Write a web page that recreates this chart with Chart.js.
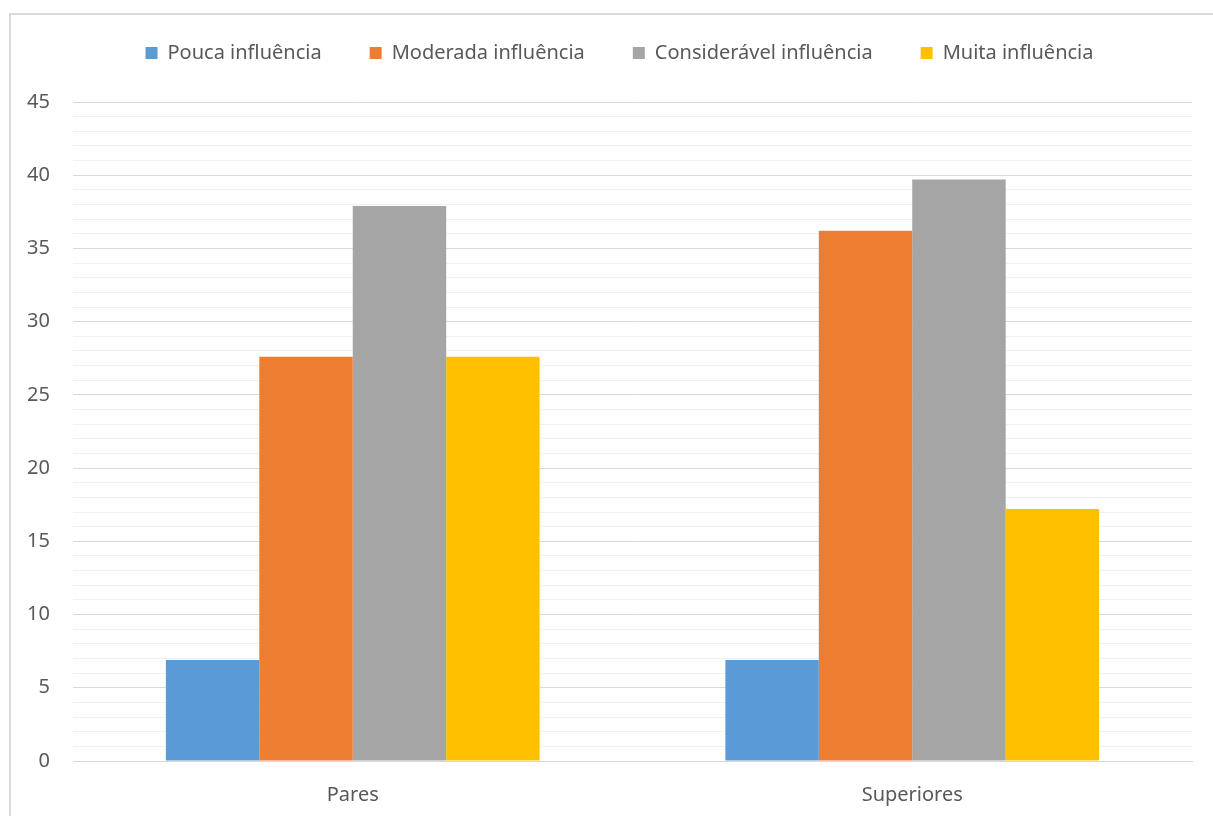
<!DOCTYPE html>
<html>
<head>
<meta charset="utf-8">
<script src="https://cdn.jsdelivr.net/npm/chart.js@4"></script>
<style>
  html, body { margin: 0; padding: 0; background: #fff; overflow: hidden; }
  #wrap { position: absolute; left: 0; top: 0; width: 1213px; height: 816px; }
  #frame { position: absolute; left: 9px; top: 13px; width: 1400px; height: 1000px;
           border-left: 2px solid #d9d9d9; border-top: 2px solid #d9d9d9; box-sizing: border-box; }
  canvas { position: absolute; left: 0; top: 0; }
</style>
</head>
<body>
<div id="wrap">
  <div id="frame"></div>
  <canvas id="c" width="1213" height="816"></canvas>
</div>
<script>
// Categories and series (percentages)
const categories = ['Pares', 'Superiores'];
const seriesNames = ['Pouca influência', 'Moderada influência', 'Considerável influência', 'Muita influência'];
const poucaInfluencia = [6.9, 6.9];
const moderadaInfluencia = [27.6, 36.2];
const consideravelInfluencia = [37.9, 39.7];
const muitaInfluencia = [27.6, 17.2];
const yTickLabels = [0, 5, 10, 15, 20, 25, 30, 35, 40, 45];

const colors = ['#5B9BD5', '#ED7D31', '#A5A5A5', '#FFC000'];
const FONT = "'Noto Sans', sans-serif";
const FONT_SIZE = 20;
const values = [poucaInfluencia, moderadaInfluencia, consideravelInfluencia, muitaInfluencia];

const datasets = seriesNames.map((name, i) => ({
  label: name,
  data: values[i],
  backgroundColor: colors[i],
  borderWidth: 0,
  categoryPercentage: 0.668,
  barPercentage: 1.0
}));

// Fixed legend band height and position
const legendBand = {
  id: 'legendBand',
  beforeInit(chart) {
    const legend = chart.legend;
    const origFit = legend.fit;
    legend.fit = function () {
      origFit.call(this);
      this.height = 102;
    };
  },
  afterLayout(chart) {
    const lg = chart.legend;
    lg.left = 47;
    lg.right = 1192;
    lg.width = 1192 - 47;
    lg.top = -5;
    lg.bottom = 97;
  }
};

new Chart(document.getElementById('c'), {
  type: 'bar',
  data: { labels: categories, datasets },
  plugins: [legendBand],
  options: {
    responsive: false,
    animation: false,
    devicePixelRatio: 1,
    layout: { padding: { left: 0, right: 21, top: 0, bottom: 0 } },
    plugins: {
      tooltip: { enabled: false },
      legend: {
        position: 'top',
        labels: {
          boxWidth: 12, boxHeight: 12, padding: 48,
          color: '#595959',
          font: { family: FONT, size: FONT_SIZE }
        }
      }
    },
    scales: {
      x: {
        afterFit(scale) { scale.height = 55; },
        grid: { display: false, drawTicks: false },
        border: { display: true, color: '#d9d9d9', width: 1 },
        ticks: { color: '#595959', padding: 22, font: { family: FONT, size: FONT_SIZE } }
      },
      y: {
        min: 0, max: 45,
        afterFit(scale) { scale.width = 73; },
        border: { display: false },
        grid: {
          drawTicks: false,
          lineWidth: 1,
          color: ctx => (ctx.tick && ctx.tick.value % 5 === 0) ? '#d9d9d9' : '#f0f0f0'
        },
        ticks: {
          stepSize: 1,
          autoSkip: false,
          padding: 23,
          color: '#595959',
          font: { family: FONT, size: FONT_SIZE },
          callback: v => yTickLabels.includes(v) ? String(v) : ''
        }
      }
    }
  }
});
</script>
</body>
</html>
